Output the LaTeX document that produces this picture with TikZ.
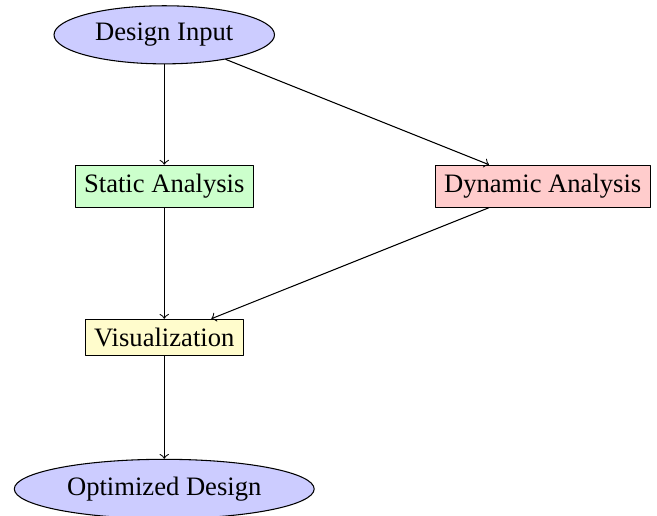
\documentclass[tikz,border=0pt]{standalone}
\usepackage{fontspec}
\setmainfont{Liberation Serif}
\usetikzlibrary{shapes.geometric}

\begin{document}
\begin{tikzpicture}[line cap=round,line join=round,>=to,
  io/.style={ellipse,draw,fill=blue!20},
  proc/.style={rectangle,draw}]
\useasboundingbox (-2.17,0.46) rectangle (6.51,-6.35);
\node[io] (input) at (0,0) {Design Input};
\node[proc,fill=green!20] (static) at (0,-2) {Static Analysis};
\node[proc,fill=red!20] (dynamic) at (5,-2) {Dynamic Analysis};
\node[proc,fill=yellow!20] (vis) at (0,-4) {Visualization};
\node[io] (opt) at (0,-6) {Optimized Design};
\draw[->] (input) -- (static);
\draw[->] (input) -- (dynamic);
\draw[->] (static) -- (vis);
\draw[->] (dynamic) -- (vis);
\draw[->] (vis) -- (opt);
\end{tikzpicture}
\end{document}
